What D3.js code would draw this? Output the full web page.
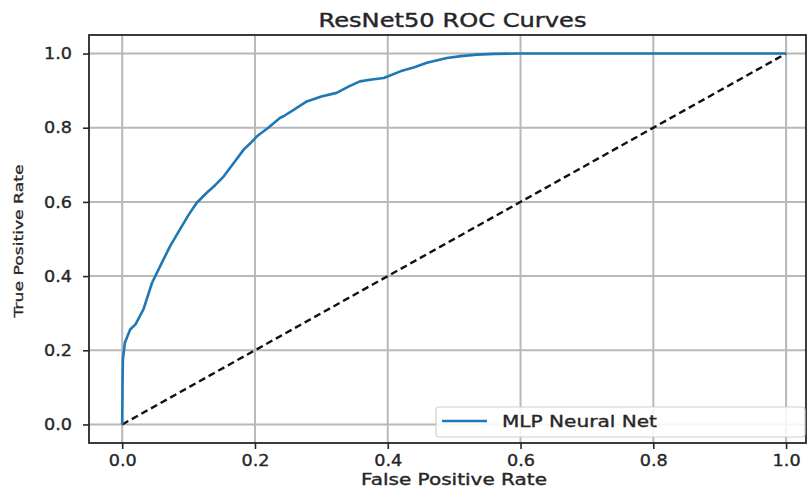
<!DOCTYPE html>
<html><head><meta charset="utf-8">
<script src="https://cdn.jsdelivr.net/npm/d3@7"></script>
<style>body{margin:0;background:#fff}svg{display:block}text{font-family:"DejaVu Sans",sans-serif}</style>
</head><body><svg id="c" width="809" height="491"></svg>
<script>
const fpr = [0,0.0005,0.001,0.004,0.012,0.02,0.032,0.045,0.06,0.072,0.087,0.1,0.112,0.127,0.14,0.153,0.168,0.183,0.193,0.203,0.22,0.238,0.243,0.26,0.278,0.3,0.323,0.34,0.358,0.376,0.394,0.419,0.44,0.459,0.489,0.51,0.534,0.56,0.594,0.7,0.8,0.9,1.0];
const tpr = [0,0.1,0.175,0.22,0.256,0.27,0.31,0.382,0.437,0.48,0.526,0.565,0.597,0.624,0.645,0.669,0.705,0.741,0.758,0.777,0.8,0.827,0.831,0.85,0.871,0.884,0.894,0.91,0.925,0.93,0.934,0.952,0.963,0.975,0.988,0.993,0.997,0.999,1.0,1.0,1.0,1.0,1.0];
const xTicks = [0.0,0.2,0.4,0.6,0.8,1.0];
const yTicks = [0.0,0.2,0.4,0.6,0.8,1.0];
const title = "ResNet50 ROC Curves";
const xLabel = "False Positive Rate";
const yLabel = "True Positive Rate";
const seriesName = "MLP Neural Net";

const svg = d3.select("#c");
const L=89,R=806,T=35,B=443;
const x = d3.scaleLinear().domain([-0.05,1.03]).range([L,R]);
const y = d3.scaleLinear().domain([-0.05,1.05]).range([B,T]);
const ink = "#262626";

const g = svg.append("g");
g.selectAll(".gx").data(xTicks).join("line").attr("x1",d=>x(d)).attr("x2",d=>x(d)).attr("y1",T).attr("y2",B).attr("stroke","#b8b8b8").attr("stroke-width",2);
g.selectAll(".gy").data(yTicks).join("line").attr("y1",d=>y(d)).attr("y2",d=>y(d)).attr("x1",L).attr("x2",R).attr("stroke","#b8b8b8").attr("stroke-width",2);

g.append("path").datum([[0,0],[1,1]]).attr("d",d3.line().x(d=>x(d[0])).y(d=>y(d[1]))).attr("fill","none").attr("stroke","#111").attr("stroke-width",2.4).attr("stroke-dasharray","7,4");
const pts = fpr.map((f,i)=>[f,tpr[i]]);
g.append("path").datum(pts).attr("d",d3.line().x(d=>x(d[0])).y(d=>y(d[1]))).attr("fill","none").attr("stroke","#1f77b4").attr("stroke-width",2.6).attr("stroke-linejoin","round");

svg.append("rect").attr("x",L).attr("y",T).attr("width",R-L).attr("height",B-T).attr("fill","none").attr("stroke",ink).attr("stroke-width",1.8);

const fmt = d3.format(".1f");
const xa = svg.append("g").attr("transform",`translate(0,${B})`).call(d3.axisBottom(x).tickValues(xTicks).tickFormat(fmt).tickSize(6).tickPadding(6));
const ya = svg.append("g").attr("transform",`translate(${L},0)`).call(d3.axisLeft(y).tickValues(yTicks).tickFormat(fmt).tickSize(6).tickPadding(11));
[xa,ya].forEach(a=>{a.select(".domain").remove();a.selectAll("line").attr("stroke",ink).attr("stroke-width",1.6);
  a.selectAll("text").attr("font-size",16).attr("fill",ink).attr("font-family","DejaVu Sans").attr("stroke",ink).attr("stroke-width",0.35)
   .attr("textLength",28).attr("lengthAdjust","spacingAndGlyphs");});

svg.append("text").attr("x",(L+R)/2+5).attr("y",27).attr("text-anchor","middle").attr("font-size",19).attr("fill",ink).attr("stroke",ink).attr("stroke-width",0.4)
  .attr("textLength",268).attr("lengthAdjust","spacingAndGlyphs").text(title);
svg.append("text").attr("x",454).attr("y",485).attr("text-anchor","middle").attr("font-size",15).attr("fill",ink).attr("stroke",ink).attr("stroke-width",0.35)
  .attr("textLength",186).attr("lengthAdjust","spacingAndGlyphs").text(xLabel);
svg.append("text").attr("transform",`translate(23,${(T+B)/2+2}) rotate(-90)`).attr("text-anchor","middle").attr("font-size",13).attr("fill",ink).attr("stroke",ink).attr("stroke-width",0.3)
  .attr("textLength",153).attr("lengthAdjust","spacingAndGlyphs").text(yLabel);

const lg = svg.append("g");
lg.append("rect").attr("x",436).attr("y",407).attr("width",369).attr("height",30).attr("rx",3).attr("fill","#fff").attr("fill-opacity",0.85).attr("stroke","#d0d0d0").attr("stroke-width",1.2);
lg.append("line").attr("x1",442).attr("x2",487).attr("y1",421).attr("y2",421).attr("stroke","#1f77b4").attr("stroke-width",2.6);
lg.append("text").attr("x",502).attr("y",427).attr("font-size",16).attr("fill",ink).attr("stroke",ink).attr("stroke-width",0.35)
  .attr("textLength",155).attr("lengthAdjust","spacingAndGlyphs").text(seriesName);
</script></body></html>
